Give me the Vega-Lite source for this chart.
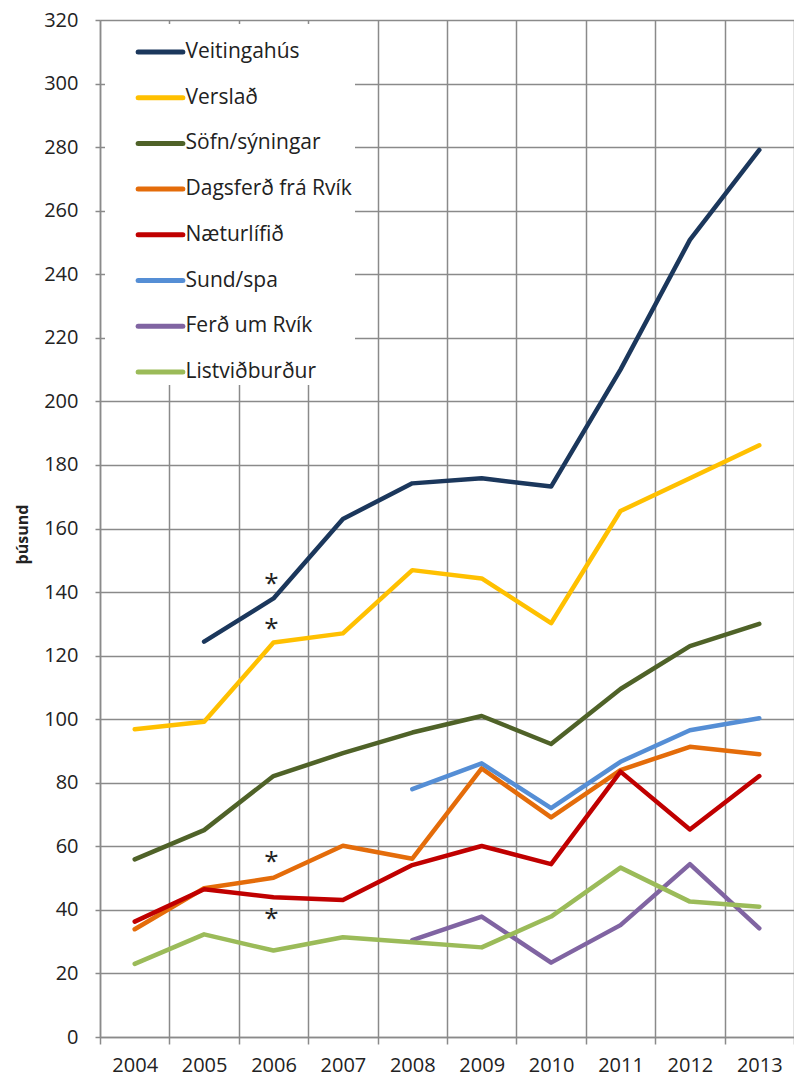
{
  "$schema": "https://vega.github.io/schema/vega-lite/v6.json",
  "width": 694,
  "height": 1017,
  "autosize": "none",
  "padding": {"left": 100, "top": 20, "right": 0, "bottom": 43},
  "background": "white",
  "config": {"view": {"stroke": null}, "font": "Open Sans"},
  "datasets": {
    "series": [
      {"year": 2005, "category": "Veitingahús", "value": 124.4},
      {"year": 2006, "category": "Veitingahús", "value": 138},
      {"year": 2007, "category": "Veitingahús", "value": 163},
      {"year": 2008, "category": "Veitingahús", "value": 174.2},
      {"year": 2009, "category": "Veitingahús", "value": 175.8},
      {"year": 2010, "category": "Veitingahús", "value": 173.2},
      {"year": 2011, "category": "Veitingahús", "value": 210},
      {"year": 2012, "category": "Veitingahús", "value": 250.8},
      {"year": 2013, "category": "Veitingahús", "value": 279.1},
      {"year": 2004, "category": "Verslað", "value": 96.8},
      {"year": 2005, "category": "Verslað", "value": 99.2},
      {"year": 2006, "category": "Verslað", "value": 124.1},
      {"year": 2007, "category": "Verslað", "value": 127},
      {"year": 2008, "category": "Verslað", "value": 146.9},
      {"year": 2009, "category": "Verslað", "value": 144.3},
      {"year": 2010, "category": "Verslað", "value": 130.2},
      {"year": 2011, "category": "Verslað", "value": 165.5},
      {"year": 2012, "category": "Verslað", "value": 175.8},
      {"year": 2013, "category": "Verslað", "value": 186.2},
      {"year": 2004, "category": "Söfn/sýningar", "value": 55.9},
      {"year": 2005, "category": "Söfn/sýningar", "value": 65.1},
      {"year": 2006, "category": "Söfn/sýningar", "value": 82.1},
      {"year": 2007, "category": "Söfn/sýningar", "value": 89.3},
      {"year": 2008, "category": "Söfn/sýningar", "value": 95.8},
      {"year": 2009, "category": "Söfn/sýningar", "value": 101},
      {"year": 2010, "category": "Söfn/sýningar", "value": 92.2},
      {"year": 2011, "category": "Söfn/sýningar", "value": 109.5},
      {"year": 2012, "category": "Söfn/sýningar", "value": 123},
      {"year": 2013, "category": "Söfn/sýningar", "value": 130},
      {"year": 2004, "category": "Dagsferð frá Rvík", "value": 33.9},
      {"year": 2005, "category": "Dagsferð frá Rvík", "value": 46.8},
      {"year": 2006, "category": "Dagsferð frá Rvík", "value": 50.1},
      {"year": 2007, "category": "Dagsferð frá Rvík", "value": 60.2},
      {"year": 2008, "category": "Dagsferð frá Rvík", "value": 56.1},
      {"year": 2009, "category": "Dagsferð frá Rvík", "value": 84.5},
      {"year": 2010, "category": "Dagsferð frá Rvík", "value": 69.1},
      {"year": 2011, "category": "Dagsferð frá Rvík", "value": 84},
      {"year": 2012, "category": "Dagsferð frá Rvík", "value": 91.3},
      {"year": 2013, "category": "Dagsferð frá Rvík", "value": 89},
      {"year": 2004, "category": "Næturlífið", "value": 36.3},
      {"year": 2005, "category": "Næturlífið", "value": 46.5},
      {"year": 2006, "category": "Næturlífið", "value": 44},
      {"year": 2007, "category": "Næturlífið", "value": 43.1},
      {"year": 2008, "category": "Næturlífið", "value": 54.1},
      {"year": 2009, "category": "Næturlífið", "value": 60.1},
      {"year": 2010, "category": "Næturlífið", "value": 54.4},
      {"year": 2011, "category": "Næturlífið", "value": 83.5},
      {"year": 2012, "category": "Næturlífið", "value": 65.3},
      {"year": 2013, "category": "Næturlífið", "value": 82.1},
      {"year": 2008, "category": "Sund/spa", "value": 78},
      {"year": 2009, "category": "Sund/spa", "value": 86.1},
      {"year": 2010, "category": "Sund/spa", "value": 72},
      {"year": 2011, "category": "Sund/spa", "value": 86.6},
      {"year": 2012, "category": "Sund/spa", "value": 96.5},
      {"year": 2013, "category": "Sund/spa", "value": 100.3},
      {"year": 2008, "category": "Ferð um Rvík", "value": 30.5},
      {"year": 2009, "category": "Ferð um Rvík", "value": 37.9},
      {"year": 2010, "category": "Ferð um Rvík", "value": 23.4},
      {"year": 2011, "category": "Ferð um Rvík", "value": 35.2},
      {"year": 2012, "category": "Ferð um Rvík", "value": 54.4},
      {"year": 2013, "category": "Ferð um Rvík", "value": 34.2},
      {"year": 2004, "category": "Listviðburður", "value": 23},
      {"year": 2005, "category": "Listviðburður", "value": 32.3},
      {"year": 2006, "category": "Listviðburður", "value": 27.2},
      {"year": 2007, "category": "Listviðburður", "value": 31.4},
      {"year": 2008, "category": "Listviðburður", "value": 29.8},
      {"year": 2009, "category": "Listviðburður", "value": 28.2},
      {"year": 2010, "category": "Listviðburður", "value": 37.9},
      {"year": 2011, "category": "Listviðburður", "value": 53.3},
      {"year": 2012, "category": "Listviðburður", "value": 42.6},
      {"year": 2013, "category": "Listviðburður", "value": 41}
    ],
    "notes": [
      {"year": 2006, "value": 144.4, "label": "*"},
      {"year": 2006, "value": 130.2, "label": "*"},
      {"year": 2006, "value": 57, "label": "*"},
      {"year": 2006, "value": 39.1, "label": "*"}
    ]
  },
  "layer": [
    {
      "data": {"name": "series"},
      "mark": {"type": "line", "strokeWidth": 4.5, "strokeCap": "round", "strokeJoin": "round"},
      "encoding": {
        "x": {
          "field": "year",
          "type": "ordinal",
          "scale": {"type": "band", "paddingInner": 0, "paddingOuter": 0},
          "axis": {
            "title": null,
            "tickBand": "extent",
            "grid": true,
            "gridColor": "#8a8a8a",
            "gridWidth": 1.5,
            "domainColor": "#8a8a8a",
            "domainWidth": 1.5,
            "tickColor": "#8a8a8a",
            "tickWidth": 1.5,
            "tickSize": 7,
            "labelAngle": 0,
            "labelFont": "Open Sans",
            "labelFontSize": 20,
            "labelColor": "#222222",
            "labelPadding": 11
          }
        },
        "y": {
          "field": "value",
          "type": "quantitative",
          "scale": {"domain": [0, 320], "nice": false},
          "axis": {
            "title": "þúsund",
            "values": [0, 20, 40, 60, 80, 100, 120, 140, 160, 180, 200, 220, 240, 260, 280, 300, 320],
            "grid": true,
            "gridColor": "#8a8a8a",
            "gridWidth": 1.5,
            "domainColor": "#8a8a8a",
            "domainWidth": 1.5,
            "tickColor": "#8a8a8a",
            "tickWidth": 1.5,
            "tickSize": 5,
            "labelFont": "Open Sans",
            "labelFontSize": 20,
            "labelColor": "#222222",
            "labelPadding": 17,
            "titleFont": "Open Sans",
            "titleFontSize": 16,
            "titleFontWeight": "bold",
            "titleColor": "#222222",
            "titleAngle": 270,
            "titleBaseline": "middle",
            "titleAlign": "center",
            "titleX": -78,
            "titleY": 514
          }
        },
        "color": {
          "field": "category",
          "type": "nominal",
          "scale": {
            "domain": ["Veitingahús", "Verslað", "Söfn/sýningar", "Dagsferð frá Rvík", "Næturlífið", "Sund/spa", "Ferð um Rvík", "Listviðburður"],
            "range": ["#1B375C", "#FFC000", "#4F6228", "#E46C0A", "#C00000", "#558ED5", "#8064A2", "#9BBB59"]
          },
          "legend": {
            "title": null,
            "orient": "none",
            "legendX": 5,
            "legendY": 4,
            "fillColor": "white",
            "padding": 3,
            "symbolType": "stroke",
            "symbolSize": 2000,
            "symbolStrokeWidth": 5,
            "symbolOffset": 27.5,
            "labelOffset": 0,
            "labelFont": "Open Sans",
            "labelFontSize": 21,
            "labelColor": "#222222",
            "labelLimit": 400,
            "rowPadding": 10.7,
            "encode": {"symbols": {"update": {"strokeCap": {"value": "round"}}}}
          }
        }
      }
    },
    {
      "data": {"name": "notes"},
      "mark": {"type": "text", "fontSize": 26, "color": "#222222", "dy": 6, "dx": -2, "baseline": "middle"},
      "encoding": {
        "x": {"field": "year", "type": "ordinal"},
        "y": {"field": "value", "type": "quantitative"},
        "text": {"field": "label"}
      }
    }
  ]
}
